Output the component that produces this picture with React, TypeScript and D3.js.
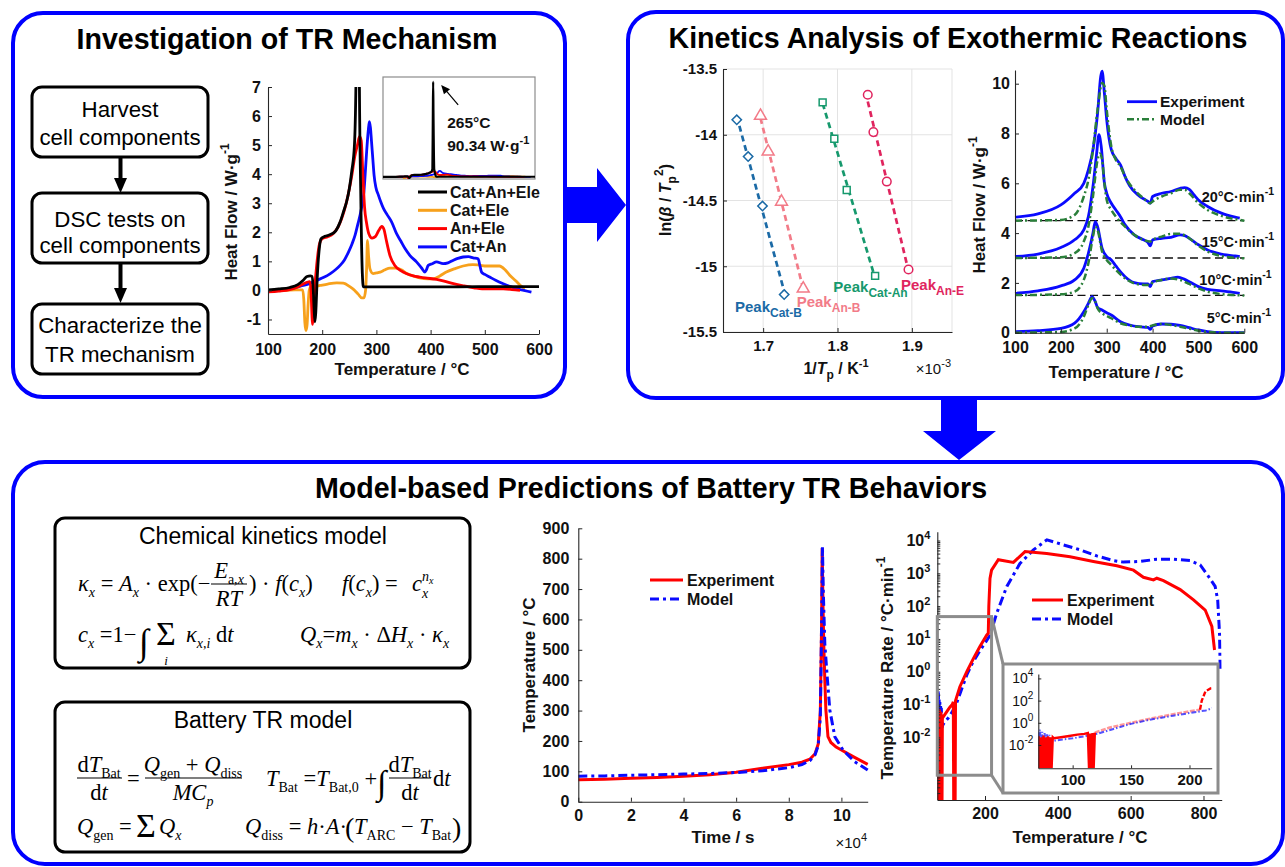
import { useEffect, useRef } from 'react';
import * as d3 from 'd3';

type Pt = [number, number];

const FONT = "'Liberation Sans', Arial, Helvetica, sans-serif";
const SERIF = "'Liberation Serif', 'Times New Roman', serif";
const AXIS = '#262626';
const TEXT = '#111111';
const FRAME = '#0000ff';

// ---------- top-left: DSC of cell components ----------
const dscTempTicks = [100, 200, 300, 400, 500, 600];
const dscFlowTicks = [-1, 0, 1, 2, 3, 4, 5, 6, 7];
const dscTempDomain: Pt = [100, 600];
const dscFlowDomain: Pt = [-1.5, 7];
const dscInsetFlowDomain: Pt = [-2, 95];
const dscPeak: Pt = [265, 90.34];
const dscNames = ['Cat+An+Ele', 'Cat+Ele', 'An+Ele', 'Cat+An'];
const dscColors = ['#000000', '#f7a11c', '#ff0000', '#0a0aff'];

const catAnEle: Pt[] = [
  [100, 0.02], [120, 0.05], [140, 0.1], [155, 0.2], [165, 0.35], [172, 0.48], [178, 0.5], [181, 0.48],
  [183, 0.2], [185, -0.6], [186.5, -1.08], [188, -0.8], [191, 0.5], [195, 1.5], [198, 1.78], [205, 1.86],
  [215, 1.92], [225, 2.05], [233, 2.35], [240, 2.75], [245, 3.05], [250, 3.5], [254.5, 4.1], [259.5, 5.0],
  [262.5, 7.5], [264, 60], [265, 90.34], [266, 60], [268.5, 7.5], [271, 3.5], [274, 0.6], [276, 0.12],
  [300, 0.12], [400, 0.12], [500, 0.13], [600, 0.13],
];
const catEle: Pt[] = [
  [100, 0], [130, 0], [150, 0.02], [164, 0.02], [166, -0.3], [168, -1.1], [170, -1.38], [172, -1.2],
  [174, -0.5], [176, 0], [178, 0.1], [185, 0.13], [196, 0.17], [210, 0.22], [227, 0.26], [239, 0.25],
  [251, 0.13], [260, 0.0], [266, -0.12], [273, -0.26], [277, -0.26], [280, 0.0], [282, 0.8], [283.5, 1.72],
  [285.5, 1.2], [288, 0.75], [294, 0.58], [300, 0.6], [307, 0.63], [315, 0.7], [325, 0.77], [337, 0.77],
  [347, 0.7], [356, 0.58], [368, 0.5], [380, 0.43], [395, 0.4], [405, 0.4], [417, 0.5], [429, 0.63],
  [445, 0.75], [460, 0.84], [478, 0.89], [490, 0.87], [503, 0.84], [515, 0.84], [527, 0.84], [537, 0.72],
  [546, 0.52], [557, 0.33], [567, 0.15], [574, 0.06],
];
const anEle: Pt[] = [
  [100, -0.05], [120, -0.02], [140, 0.03], [155, 0.12], [165, 0.22], [172, 0.28], [177, 0.3], [179, 0.1],
  [181, -0.8], [182, -1.17], [183.5, -0.9], [186, 0], [190, 0.9], [195, 1.6], [200, 1.78], [210, 1.85],
  [220, 1.95], [230, 2.2], [240, 2.7], [248, 3.3], [255, 4.0], [260, 4.6], [265, 5.0], [269, 5.3],
  [272, 5.15], [275, 4.0], [278, 2.9], [282, 2.3], [286, 1.95], [292, 1.8], [298, 1.85], [304, 2.05],
  [310, 2.2], [314, 2.1], [318, 1.75], [325, 1.2], [334, 0.86], [345, 0.68], [355, 0.58], [368, 0.5],
  [380, 0.46], [390, 0.43], [411, 0.38], [425, 0.32], [442, 0.23], [460, 0.16], [480, 0.09], [495, 0.05],
  [510, 0.05], [534, 0.05], [550, 0.03], [565, 0.0],
];
const catAn: Pt[] = [
  [100, -0.05], [120, 0], [140, 0.05], [160, 0.15], [175, 0.22], [190, 0.35], [203, 0.45], [215, 0.58],
  [225, 0.72], [233, 0.86], [241, 1.05], [248.5, 1.32], [255, 1.6], [260.7, 1.9], [266, 2.3], [270, 2.6],
  [274, 3.0], [277, 3.4], [280, 4.2], [282, 4.78], [285, 5.5], [287, 5.81], [289, 5.6], [291, 5.12],
  [293.5, 4.5], [295.7, 3.97], [299, 3.55], [303.7, 3.28], [308, 3.05], [313, 2.82], [320, 2.6], [328, 2.36],
  [337, 1.96], [345, 1.7], [352.8, 1.44], [362, 1.2], [374, 0.98], [383, 0.78], [389.6, 0.63], [392, 0.7],
  [395.7, 0.86], [403, 0.92], [411, 0.98], [423, 0.92], [432, 0.95], [442, 1.04], [450, 1.1], [460, 1.15],
  [470, 1.16], [478.5, 1.12], [487.7, 1.09], [491, 0.85], [494, 0.63], [500, 0.55], [509, 0.46], [520, 0.35],
  [534, 0.23], [546, 0.14], [558, 0.06], [572, 0], [586, -0.06],
];
const dscCurves = [catAnEle, catEle, anEle, catAn];

// ---------- top-right (left): Kissinger plot ----------
const kisDomainX: Pt = [1.646, 1.954];
const kisDomainY: Pt = [-15.5, -13.5];
const kisTicksX = [1.7, 1.8, 1.9];
const kisTicksY = [-15.5, -15, -14.5, -14, -13.5];
const peakNames = ['Cat-B', 'An-B', 'Cat-An', 'An-E'];
const peakColors = ['#1b6aa6', '#f27b88', '#16996d', '#e0245e'];
const peakShapes = ['diamond', 'triangle', 'square', 'circle'];
const peakInvT = [
  [1.6645, 1.6798, 1.6991, 1.7283],
  [1.6964, 1.7067, 1.7247, 1.7539],
  [1.78, 1.7957, 1.8124, 1.8506],
  [1.8407, 1.8483, 1.8663, 1.8955],
];
const peakLnRate = [
  [-13.886, -14.166, -14.542, -15.215],
  [-13.856, -14.128, -14.509, -15.17],
  [-13.754, -14.031, -14.42, -15.073],
  [-13.696, -13.98, -14.356, -15.025],
];
const peakLabelAt: Pt[] = [[1.6621, -15.346], [1.7451, -15.308], [1.7944, -15.194], [1.8854, -15.181]];

// ---------- top-right (right): DSC fit at four heating rates ----------
const kinTicksX = [100, 200, 300, 400, 500, 600];
const kinTicksY = [0, 2, 4, 6, 8, 10];
const kinDomainY: Pt = [0, 10.55];
const heatRates = ['20', '15', '10', '5'];
const kinBaselines = [4.5, 3, 1.5];
const kinLabelAt: Pt[] = [[507, 5.23], [507, 3.46], [502, 1.92], [518, 0.38]];
const exp20: Pt[] = [
  [100, 4.64], [150, 4.77], [200, 5.13], [230, 5.6], [250, 6.0], [260, 6.54], [270, 7.35], [280, 8.8],
  [287, 10.3], [290, 10.5], [295, 9.6], [300, 8.55], [310, 7.35], [320, 7.0], [330, 6.74], [340, 6.27],
  [350, 5.9], [370, 5.5], [390, 5.27], [395, 5.2], [400, 5.47], [420, 5.6], [440, 5.67], [460, 5.8],
  [470, 5.83], [480, 5.76], [490, 5.54], [500, 5.33], [520, 5.07], [550, 4.8], [580, 4.64], [590, 4.6],
];
const mod20: Pt[] = [
  [100, 4.5], [200, 4.53], [230, 4.73], [250, 5.47], [260, 6.14], [270, 7.35], [280, 8.95], [290, 10.03],
  [295, 9.9], [300, 8.95], [310, 7.48], [320, 6.94], [330, 6.68], [340, 6.27], [360, 5.74], [380, 5.4],
  [395, 5.2], [400, 5.27], [420, 5.47], [440, 5.6], [460, 5.74], [470, 5.74], [480, 5.6], [500, 5.2],
  [520, 4.93], [550, 4.69], [580, 4.56], [600, 4.5],
];
const exp15: Pt[] = [
  [100, 3.06], [150, 3.16], [200, 3.42], [230, 3.73], [250, 4.13], [260, 4.66], [270, 5.87], [278, 7.2],
  [283, 7.95], [288, 7.48], [295, 6.0], [300, 5.6], [310, 5.2], [320, 4.93], [330, 4.66], [340, 4.33],
  [360, 3.93], [380, 3.73], [390, 3.62], [395, 3.49], [400, 3.73], [420, 3.79], [440, 3.83], [460, 3.93],
  [470, 3.9], [480, 3.79], [500, 3.53], [520, 3.32], [550, 3.16], [580, 3.08], [590, 3.06],
];
const mod15: Pt[] = [
  [100, 3.0], [200, 3.03], [230, 3.19], [250, 3.66], [260, 4.26], [270, 5.47], [280, 6.94], [285, 7.2],
  [290, 6.94], [295, 6.0], [300, 5.33], [310, 4.93], [320, 4.66], [340, 4.26], [360, 3.93], [380, 3.73],
  [395, 3.66], [400, 3.73], [420, 3.86], [440, 3.97], [460, 3.97], [480, 3.79], [500, 3.49], [520, 3.26],
  [550, 3.08], [580, 3.01], [600, 2.99],
];
const exp10: Pt[] = [
  [100, 1.58], [150, 1.68], [200, 1.88], [230, 2.12], [250, 2.59], [260, 3.19], [270, 4.0], [275, 4.46],
  [280, 4.26], [290, 3.39], [300, 3.06], [310, 2.92], [320, 2.68], [340, 2.25], [360, 2.01], [380, 1.96],
  [390, 1.96], [395, 1.85], [400, 2.05], [420, 2.12], [440, 2.18], [455, 2.23], [470, 2.14], [480, 2.05],
  [500, 1.85], [520, 1.74], [550, 1.68], [580, 1.61], [590, 1.58],
];
const mod10: Pt[] = [
  [100, 1.51], [200, 1.54], [230, 1.65], [250, 2.12], [260, 2.79], [270, 3.86], [275, 4.26], [280, 4.13],
  [290, 3.26], [300, 2.92], [310, 2.72], [320, 2.52], [340, 2.18], [360, 1.98], [380, 1.92], [395, 1.92],
  [400, 2.01], [420, 2.12], [440, 2.18], [460, 2.12], [480, 1.96], [500, 1.78], [520, 1.65], [550, 1.55],
  [580, 1.51], [600, 1.49],
];
const exp5: Pt[] = [
  [100, 0.04], [150, 0.08], [200, 0.17], [230, 0.38], [250, 0.84], [260, 1.18], [268, 1.45], [275, 1.25],
  [280, 1.02], [290, 0.91], [300, 0.8], [310, 0.71], [330, 0.44], [350, 0.31], [370, 0.24], [390, 0.21],
  [395, 0.13], [400, 0.27], [420, 0.35], [440, 0.34], [460, 0.29], [480, 0.2], [500, 0.11], [520, 0.04],
  [550, 0], [600, 0],
];
const mod5: Pt[] = [
  [100, 0], [200, 0.03], [230, 0.17], [250, 0.64], [260, 1.11], [268, 1.38], [275, 1.25], [280, 0.98],
  [290, 0.78], [300, 0.67], [310, 0.58], [330, 0.38], [350, 0.29], [370, 0.24], [390, 0.24], [400, 0.29],
  [420, 0.35], [440, 0.31], [460, 0.24], [480, 0.16], [500, 0.08], [520, 0.03], [550, 0], [600, 0],
];
const kinExp = [exp20, exp15, exp10, exp5];
const kinModel = [mod20, mod15, mod10, mod5];

// ---------- bottom: battery temperature vs time (x 1e4 s) ----------
const timeTicks = [0, 2, 4, 6, 8, 10];
const tempTicks = [0, 100, 200, 300, 400, 500, 600, 700, 800, 900];
const timeDomain: Pt = [0, 11];
const tempDomain: Pt = [0, 900];
const tempExp: Pt[] = [
  [0, 72], [1, 74], [2, 77], [3, 80], [4, 84], [5, 89], [6, 97], [7, 110], [8, 122], [8.5, 130], [8.8, 140],
  [9.0, 158], [9.12, 190], [9.2, 300], [9.25, 600], [9.27, 835], [9.3, 650], [9.33, 520], [9.37, 400],
  [9.41, 302], [9.49, 214], [9.6, 195], [9.8, 180], [10, 170], [10.5, 146], [11, 123],
];
const tempModel: Pt[] = [
  [0, 84], [1, 85], [2, 87], [3, 89], [4, 91], [5, 93], [6, 96], [7, 102], [8, 112], [8.5, 122], [8.8, 135],
  [9.0, 155], [9.12, 185], [9.2, 280], [9.25, 600], [9.28, 840], [9.31, 700], [9.37, 520], [9.46, 412],
  [9.56, 302], [9.75, 214], [10.06, 170], [10.5, 132], [11, 104],
];

// ---------- bottom: temperature rate vs temperature (log) ----------
const rateTempTicks = [200, 400, 600, 800];
const rateTempDomain: Pt = [69, 850];
const rateDomain: Pt = [1.23e-4, 1.86e4];
const rateLabelExps = [-2, -1, 0, 1, 2, 3, 4];
const rateInsetTempTicks = [100, 150, 200];
const rateInsetTempDomain: Pt = [70.6, 219];
const rateInsetDomain: Pt = [7.9e-5, 2.5e4];
const rateInsetTicks = [1e-2, 1, 1e2, 1e4];
const rateZoomT: Pt = [69, 218];
const rateZoomR: Pt = [7e-4, 48];
const rateNoiseEnd = 119;
const rateJumpStart = 209;
const rateExp: Pt[] = [
  [69, 0.05], [70, 1e-6], [71, 0.06], [72, 1e-6], [73, 0.05], [74, 1e-6], [75, 0.07], [76, 1e-6], [77, 0.05],
  [78, 1e-6], [79, 0.06], [80, 1e-6], [81, 0.05], [82, 1e-6], [83, 0.05], [84, 0.04], [90, 0.05], [97, 0.065],
  [104, 0.085], [110, 0.1], [113, 0.12], [114, 1e-6], [115, 0.11], [116, 1e-6], [117, 0.12], [118, 1e-6],
  [119, 0.13], [131, 0.35], [150, 1.0], [168, 2.5], [186, 5.9], [204.6, 13], [209, 15], [210.5, 100],
  [213.7, 700], [218, 1250], [236.6, 2600], [278, 2150], [310, 4600], [369.5, 4000], [433.6, 3200],
  [497.7, 2300], [562, 1700], [607.7, 1250], [635, 760], [662.7, 630], [671.8, 710], [690, 600], [736, 320],
  [772.6, 155], [804.7, 76], [823, 24], [830.3, 4.6],
];
const rateModel: Pt[] = [
  [69, 0.003], [70, 0.2], [71, 0.01], [72, 0.25], [73, 0.008], [74, 0.15], [75, 0.01], [76, 0.12], [77, 0.012],
  [78, 0.09], [79, 0.015], [80, 0.08], [82, 0.02], [85, 0.025], [90, 0.03], [100, 0.04], [110, 0.06],
  [122, 0.11], [135, 0.28], [150, 0.8], [165, 1.8], [186, 4.4], [200, 7.5], [214, 13], [232, 60], [260, 400],
  [296, 2000], [333, 5200], [370, 10500], [415, 7400], [461, 5200], [507, 3400], [553, 2450], [580, 2200],
  [626, 2300], [672, 2700], [718, 2700], [763, 2450], [791, 1800], [814, 800], [832, 400], [839, 155],
  [844, 15], [846, 1],
];

type Seg = { t: string; i?: boolean; o?: number; s?: number };

function richText(g: any, x: number, y: number, segs: Seg[], opt: any = {}) {
  const size = opt.size ?? 16;
  const t = g.append('text').attr('x', x).attr('y', y)
    .attr('font-family', opt.family ?? FONT)
    .attr('font-size', size)
    .attr('font-weight', opt.weight ?? 'bold')
    .attr('text-anchor', opt.anchor ?? 'middle')
    .attr('fill', opt.fill ?? TEXT);
  if (opt.rotate) t.attr('transform', `rotate(${opt.rotate},${x},${y})`);
  let cur = 0;
  segs.forEach((s) => {
    const off = s.o ?? 0;
    t.append('tspan').attr('dy', off - cur).attr('font-size', s.s ?? size)
      .attr('font-style', s.i ? 'italic' : 'normal').text(s.t);
    cur = off;
  });
  return t;
}

function styleAxis(a: any, size = 16, weight = 'bold') {
  a.select('.domain').attr('stroke', AXIS).attr('stroke-width', 1.1);
  a.selectAll('.tick line').attr('stroke', AXIS);
  a.selectAll('.tick text').attr('font-family', FONT).attr('font-size', size)
    .attr('font-weight', weight).attr('fill', TEXT);
  return a;
}

function useD3(draw: (g: any) => void) {
  const ref = useRef<SVGGElement>(null);
  useEffect(() => {
    const g = d3.select(ref.current);
    g.selectAll('*').remove();
    draw(g);
  }, []);
  return ref;
}

function logTicks(lo: number, hi: number) {
  const out: number[] = [];
  for (let e = Math.floor(Math.log10(lo)); e <= Math.ceil(Math.log10(hi)); e++) {
    for (let k = 1; k < 10; k++) {
      const v = k * Math.pow(10, e);
      if (v >= lo && v <= hi) out.push(v);
    }
  }
  return out;
}

function powLabels(axisG: any, exps: number[], supSize: number) {
  axisG.selectAll('.tick text').each(function (this: any, d: any) {
    const t = d3.select(this);
    t.text(null);
    const e = Math.round(Math.log10(d));
    if (Math.abs(d / Math.pow(10, e) - 1) > 1e-6 || !exps.includes(e)) return;
    t.append('tspan').text('10');
    t.append('tspan').attr('dy', -7).attr('font-size', supSize).text(String(e));
  });
}

function DscChart() {
  const ref = useD3((g) => {
    const x = d3.scaleLinear().domain(dscTempDomain).range([268, 539]);
    const y = d3.scaleLinear().domain(dscFlowDomain).range([334, 87]);
    g.append('clipPath').attr('id', 'dscClip').append('rect')
      .attr('x', 268).attr('y', 87).attr('width', 272).attr('height', 247);
    const line = d3.line<Pt>().x((d) => x(d[0])).y((d) => y(d[1])).curve(d3.curveMonotoneX);
    const plot = g.append('g').attr('clip-path', 'url(#dscClip)');
    [1, 3, 2, 0].forEach((i) => {
      plot.append('path').attr('d', line(dscCurves[i])).attr('fill', 'none')
        .attr('stroke', dscColors[i]).attr('stroke-width', 2.8).attr('stroke-linejoin', 'round');
    });

    styleAxis(g.append('g').attr('transform', 'translate(0,334)')
      .call(d3.axisBottom(x).tickValues(dscTempTicks).tickSize(-4).tickSizeOuter(0).tickPadding(10)));
    styleAxis(g.append('g').attr('transform', 'translate(268,0)')
      .call(d3.axisLeft(y).tickValues(dscFlowTicks).tickFormat((d: any) => String(d))
        .tickSize(-4).tickSizeOuter(0).tickPadding(7)));
    richText(g, 402, 375, [{ t: 'Temperature / °C' }], { size: 17 });
    richText(g, 237, 212, [{ t: 'Heat Flow / W·g' }, { t: '-1', o: -8, s: 12 }], { size: 17, rotate: -90 });

    // legend
    dscNames.forEach((n, i) => {
      const ly = 192 + i * 18.3;
      g.append('line').attr('x1', 418).attr('x2', 447).attr('y1', ly).attr('y2', ly)
        .attr('stroke', dscColors[i]).attr('stroke-width', 3);
      richText(g, 450, ly + 5.5, [{ t: n }], { anchor: 'start', size: 16 });
    });

    // inset with the full black peak
    const ix = d3.scaleLinear().domain(dscTempDomain).range([383, 535]);
    const iy = d3.scaleLinear().domain(dscInsetFlowDomain).range([179, 77]);
    g.append('rect').attr('x', 383).attr('y', 77).attr('width', 152).attr('height', 102)
      .attr('fill', '#fff').attr('stroke', '#8c8c8c').attr('stroke-width', 1.2);
    g.append('clipPath').attr('id', 'dscInsetClip').append('rect')
      .attr('x', 383).attr('y', 77).attr('width', 152).attr('height', 102);
    const iline = d3.line<Pt>().x((d) => ix(d[0])).y((d) => iy(d[1])).curve(d3.curveMonotoneX);
    const ip = g.append('g').attr('clip-path', 'url(#dscInsetClip)');
    [1, 3, 2, 0].forEach((i) => {
      ip.append('path').attr('d', iline(dscCurves[i])).attr('fill', 'none')
        .attr('stroke', dscColors[i]).attr('stroke-width', i === 0 ? 2.2 : 1.8);
    });
    const px = ix(dscPeak[0]);
    const py = iy(dscPeak[1]);
    const tip: Pt = [px + 8, py + 3];
    const tail: Pt = [px + 25, py + 23];
    g.append('line').attr('x1', tail[0]).attr('y1', tail[1]).attr('x2', tip[0] + 3).attr('y2', tip[1] + 3.5)
      .attr('stroke', '#000').attr('stroke-width', 1.2);
    const ang = Math.atan2(tip[1] - tail[1], tip[0] - tail[0]);
    const hl = 9, hw = 4;
    const bx = tip[0] - hl * Math.cos(ang), by = tip[1] - hl * Math.sin(ang);
    g.append('polygon').attr('points', [
      tip, [bx + hw * Math.sin(ang), by - hw * Math.cos(ang)], [bx - hw * Math.sin(ang), by + hw * Math.cos(ang)],
    ].map((p) => p.join(',')).join(' ')).attr('fill', '#000');
    richText(g, px + 14, 128, [{ t: `${dscPeak[0]}°C` }], { anchor: 'start', size: 15.5 });
    richText(g, px + 14, 151, [{ t: `${dscPeak[1]} W·g` }, { t: '-1', o: -7, s: 11 }], { anchor: 'start', size: 15.5 });
  });
  return <g ref={ref} />;
}

function KissingerChart() {
  const ref = useD3((g) => {
    const x = d3.scaleLinear().domain(kisDomainX).range([723, 952]);
    const y = d3.scaleLinear().domain(kisDomainY).range([332, 69]);
    const grid = g.append('g').attr('stroke', '#e3e3e3').attr('stroke-width', 1);
    kisTicksX.forEach((v) => grid.append('line').attr('x1', x(v)).attr('x2', x(v)).attr('y1', 69).attr('y2', 332));
    kisTicksY.forEach((v) => grid.append('line').attr('x1', 723).attr('x2', 952).attr('y1', y(v)).attr('y2', y(v)));
    grid.append('line').attr('x1', 952).attr('x2', 952).attr('y1', 69).attr('y2', 332);

    styleAxis(g.append('g').attr('transform', 'translate(0,332)')
      .call(d3.axisBottom(x).tickValues(kisTicksX).tickFormat((d: any) => d.toFixed(1))
        .tickSize(-4).tickSizeOuter(0).tickPadding(8)), 15);
    styleAxis(g.append('g').attr('transform', 'translate(723,0)')
      .call(d3.axisLeft(y).tickValues(kisTicksY).tickFormat((d: any) => String(d))
        .tickSize(-4).tickSizeOuter(0).tickPadding(6)), 15);

    peakNames.forEach((name, i) => {
      const xs = peakInvT[i], ys = peakLnRate[i];
      const mx = d3.mean(xs)!, my = d3.mean(ys)!;
      let sxy = 0, sxx = 0;
      xs.forEach((v, k) => { sxy += (v - mx) * (ys[k] - my); sxx += (v - mx) * (v - mx); });
      const b = sxy / sxx, a = my - b * mx;
      const x0 = d3.min(xs)!, x1 = d3.max(xs)!;
      g.append('line').attr('x1', x(x0)).attr('y1', y(a + b * x0)).attr('x2', x(x1)).attr('y2', y(a + b * x1))
        .attr('stroke', peakColors[i]).attr('stroke-width', 2.7).attr('stroke-dasharray', '6,4');
      const shape = peakShapes[i];
      const sym = d3.symbol().type(
        shape === 'triangle' ? d3.symbolTriangle : shape === 'circle' ? d3.symbolCircle : d3.symbolSquare,
      ).size(shape === 'diamond' ? 44 : shape === 'triangle' ? 62 : shape === 'square' ? 48 : 58);
      xs.forEach((v, k) => {
        g.append('path').attr('d', sym())
          .attr('transform', `translate(${x(v)},${y(ys[k])})${shape === 'diamond' ? ' rotate(45)' : ''}`)
          .attr('fill', '#fff').attr('stroke', peakColors[i]).attr('stroke-width', 1.5);
      });
      const [lx, ly] = peakLabelAt[i];
      richText(g, x(lx), y(ly), [{ t: 'Peak' }, { t: name, o: 5, s: 12 }], { anchor: 'start', size: 15, fill: peakColors[i] });
    });

    richText(g, 836, 374, [
      { t: '1/' }, { t: 'T', i: true }, { t: 'p', o: 5, s: 12 }, { t: ' / K' }, { t: '-1', o: -7, s: 11 },
    ], { size: 16 });
    richText(g, 951, 374, [{ t: '×10' }, { t: '-3', o: -7, s: 11 }], { anchor: 'end', size: 15, weight: 'normal' });
    richText(g, 671, 200, [
      { t: 'ln(' }, { t: 'β', i: true }, { t: ' / ' }, { t: 'T', i: true }, { t: 'p', o: 5, s: 12 },
      { t: '2', o: -8, s: 12 }, { t: ')' },
    ], { size: 16, rotate: -90 });
  });
  return <g ref={ref} />;
}

function KineticsChart() {
  const ref = useD3((g) => {
    const x = d3.scaleLinear().domain(dscTempDomain).range([1015, 1244.3]);
    const y = d3.scaleLinear().domain(kinDomainY).range([332.7, 70]);
    kinBaselines.forEach((v) => {
      g.append('line').attr('x1', x(100)).attr('x2', x(600)).attr('y1', y(v)).attr('y2', y(v))
        .attr('stroke', '#111').attr('stroke-width', 1.4).attr('stroke-dasharray', '8,4.5');
    });
    const line = d3.line<Pt>().x((d) => x(d[0])).y((d) => y(d[1])).curve(d3.curveMonotoneX);
    kinExp.forEach((c) => g.append('path').attr('d', line(c)).attr('fill', 'none')
      .attr('stroke', '#0a0aff').attr('stroke-width', 2.8));
    kinModel.forEach((c) => g.append('path').attr('d', line(c)).attr('fill', 'none')
      .attr('stroke', '#2a7f3a').attr('stroke-width', 2.5).attr('stroke-dasharray', '7,3,2,3'));

    styleAxis(g.append('g').attr('transform', 'translate(0,332.7)')
      .call(d3.axisBottom(x).tickValues(kinTicksX).tickSize(-4).tickSizeOuter(0).tickPadding(9)));
    styleAxis(g.append('g').attr('transform', 'translate(1015,0)')
      .call(d3.axisLeft(y).tickValues(kinTicksY).tickSize(-4).tickSizeOuter(0).tickPadding(5)));
    richText(g, 1116, 378, [{ t: 'Temperature / °C' }], { size: 17 });
    richText(g, 985, 205, [{ t: 'Heat Flow / W·g' }, { t: '-1', o: -8, s: 12 }], { size: 17, rotate: -90 });

    heatRates.forEach((r, i) => {
      const [lx, ly] = kinLabelAt[i];
      richText(g, x(lx), y(ly), [{ t: `${r}°C·min` }, { t: '-1', o: -7, s: 10.5 }], { anchor: 'start', size: 14.5 });
    });

    g.append('line').attr('x1', 1127).attr('x2', 1157).attr('y1', 101.7).attr('y2', 101.7)
      .attr('stroke', '#0a0aff').attr('stroke-width', 2.8);
    g.append('line').attr('x1', 1127).attr('x2', 1157).attr('y1', 119.3).attr('y2', 119.3)
      .attr('stroke', '#2a7f3a').attr('stroke-width', 2.5).attr('stroke-dasharray', '7,3,2,3');
    richText(g, 1160, 107, [{ t: 'Experiment' }], { anchor: 'start', size: 15.5 });
    richText(g, 1160, 125, [{ t: 'Model' }], { anchor: 'start', size: 15.5 });
  });
  return <g ref={ref} />;
}

function TempChart() {
  const ref = useD3((g) => {
    const x = d3.scaleLinear().domain(timeDomain).range([578.3, 867.7]);
    const y = d3.scaleLinear().domain(tempDomain).range([801.7, 528.3]);
    const line = d3.line<Pt>().x((d) => x(d[0])).y((d) => y(d[1]));
    g.append('path').attr('d', line(tempExp)).attr('fill', 'none').attr('stroke', '#ff0000').attr('stroke-width', 3);
    g.append('path').attr('d', line(tempModel)).attr('fill', 'none').attr('stroke', '#0a0aff')
      .attr('stroke-width', 3).attr('stroke-dasharray', '9,4,3,4');
    styleAxis(g.append('g').attr('transform', 'translate(0,801.7)')
      .call(d3.axisBottom(x).tickValues(timeTicks).tickSize(-4).tickSizeOuter(0).tickPadding(8)));
    styleAxis(g.append('g').attr('transform', 'translate(578.3,0)')
      .call(d3.axisLeft(y).tickValues(tempTicks).tickSize(-4).tickSizeOuter(0).tickPadding(9)));
    richText(g, 723, 843, [{ t: 'Time / s' }], { size: 17 });
    richText(g, 867, 848, [{ t: '×10' }, { t: '4', o: -7, s: 11 }], { anchor: 'end', size: 15, weight: 'normal' });
    richText(g, 535, 665, [{ t: 'Temperature / °C' }], { size: 17, rotate: -90 });

    g.append('line').attr('x1', 650).attr('x2', 683).attr('y1', 580).attr('y2', 580)
      .attr('stroke', '#ff0000').attr('stroke-width', 3);
    g.append('line').attr('x1', 650).attr('x2', 683).attr('y1', 599).attr('y2', 599)
      .attr('stroke', '#0a0aff').attr('stroke-width', 3).attr('stroke-dasharray', '9,4,3,4');
    richText(g, 687, 586, [{ t: 'Experiment' }], { anchor: 'start', size: 16 });
    richText(g, 687, 605, [{ t: 'Model' }], { anchor: 'start', size: 16 });
  });
  return <g ref={ref} />;
}

function RateChart() {
  const ref = useD3((g) => {
    const x = d3.scaleLinear().domain(rateTempDomain).range([937.3, 1221.7]);
    const y = d3.scaleLog().domain(rateDomain).range([800, 531.7]).clamp(true);
    g.append('clipPath').attr('id', 'rateClip').append('rect')
      .attr('x', 937.3).attr('y', 531.7).attr('width', 284.4).attr('height', 268.3);
    const line = d3.line<Pt>().x((d) => x(d[0])).y((d) => y(d[1]));
    const plot = g.append('g').attr('clip-path', 'url(#rateClip)');
    plot.append('path').attr('d', line(rateModel)).attr('fill', 'none').attr('stroke', '#0a0aff')
      .attr('stroke-width', 3).attr('stroke-dasharray', '9,4,3,4');
    plot.append('path').attr('d', line(rateExp)).attr('fill', 'none').attr('stroke', '#ff0000')
      .attr('stroke-width', 3);

    styleAxis(g.append('g').attr('transform', 'translate(0,800)')
      .call(d3.axisBottom(x).tickValues(rateTempTicks).tickSize(-4).tickSizeOuter(0).tickPadding(8)));
    const ay = styleAxis(g.append('g').attr('transform', 'translate(937.3,0)')
      .call(d3.axisLeft(y).tickValues(logTicks(rateDomain[0], rateDomain[1])).tickFormat(() => '')
        .tickSize(-3).tickSizeOuter(0).tickPadding(7)));
    powLabels(ay, rateLabelExps, 11);
    richText(g, 1080, 843, [{ t: 'Temperature / °C' }], { size: 17 });
    richText(g, 893, 668, [{ t: 'Temperature Rate / °C·min' }, { t: '-1', o: -8, s: 12 }], { size: 17, rotate: -90 });

    // zoom box, connectors and inset
    const zx0 = x(rateZoomT[0]), zx1 = x(rateZoomT[1]);
    const zy0 = y(rateZoomR[1]), zy1 = y(rateZoomR[0]);
    const box = { x: 1003, y: 664, w: 215, h: 129 };
    const gray = '#8c8c8c';
    g.append('rect').attr('x', zx0).attr('y', zy0).attr('width', zx1 - zx0).attr('height', zy1 - zy0)
      .attr('fill', 'none').attr('stroke', gray).attr('stroke-width', 3);
    g.append('line').attr('x1', zx1).attr('y1', zy0).attr('x2', box.x).attr('y2', box.y).attr('stroke', gray).attr('stroke-width', 3);
    g.append('line').attr('x1', zx1).attr('y1', zy1).attr('x2', box.x).attr('y2', box.y + box.h).attr('stroke', gray).attr('stroke-width', 3);
    g.append('rect').attr('x', box.x).attr('y', box.y).attr('width', box.w).attr('height', box.h)
      .attr('fill', '#fff').attr('stroke', gray).attr('stroke-width', 3);

    const ix = d3.scaleLinear().domain(rateInsetTempDomain).range([1038.3, 1211.7]);
    const iy = d3.scaleLog().domain(rateInsetDomain).range([768.3, 674]).clamp(true);
    g.append('clipPath').attr('id', 'rateInsetClip').append('rect')
      .attr('x', 1038.3).attr('y', 674).attr('width', 173.4).attr('height', 94.3);
    const iline = d3.line<Pt>().x((d) => ix(d[0])).y((d) => iy(d[1]));
    const ip = g.append('g').attr('clip-path', 'url(#rateInsetClip)');
    ip.append('path').attr('d', iline(rateExp.filter((d) => d[0] >= rateNoiseEnd && d[0] <= rateJumpStart)))
      .attr('fill', 'none').attr('stroke', '#ff3030')
      .attr('stroke-width', 2.6).attr('stroke-opacity', 0.5).attr('stroke-dasharray', '5,1.5');
    ip.append('path').attr('d', iline(rateModel)).attr('fill', 'none').attr('stroke', '#1a1aff')
      .attr('stroke-width', 2).attr('stroke-opacity', 0.75).attr('stroke-dasharray', '5,2,1.5,2');
    ip.append('path').attr('d', iline(rateExp.filter((d) => d[0] <= rateNoiseEnd)))
      .attr('fill', 'none').attr('stroke', '#ff0000').attr('stroke-width', 2.4);
    ip.append('path').attr('d', iline(rateExp.filter((d) => d[0] >= rateJumpStart)))
      .attr('fill', 'none').attr('stroke', '#ff0000').attr('stroke-width', 2.4).attr('stroke-dasharray', '5,2');
    styleAxis(g.append('g').attr('transform', 'translate(0,768.3)')
      .call(d3.axisBottom(ix).tickValues(rateInsetTempTicks).tickSize(-3).tickSizeOuter(0).tickPadding(6)), 15);
    const iay = styleAxis(g.append('g').attr('transform', 'translate(1038.3,0)')
      .call(d3.axisLeft(iy).tickValues(rateInsetTicks).tickFormat(() => '').tickSize(-3).tickSizeOuter(0).tickPadding(5)),
      14, 'normal');
    powLabels(iay, [-2, 0, 2, 4], 10);

    g.append('line').attr('x1', 1032).attr('x2', 1063).attr('y1', 600).attr('y2', 600)
      .attr('stroke', '#ff0000').attr('stroke-width', 3);
    g.append('line').attr('x1', 1032).attr('x2', 1063).attr('y1', 619).attr('y2', 619)
      .attr('stroke', '#0a0aff').attr('stroke-width', 3).attr('stroke-dasharray', '9,4,3,4');
    richText(g, 1067, 606, [{ t: 'Experiment' }], { anchor: 'start', size: 16 });
    richText(g, 1067, 625, [{ t: 'Model' }], { anchor: 'start', size: 16 });
  });
  return <g ref={ref} />;
}

const I = (t: string): Seg => ({ t, i: true });
const U = (t: string): Seg => ({ t });
const sb = (t: string, i = false): Seg => ({ t, i, o: 6, s: 14 });

const eqTexts: { x: number; y: number; segs: Seg[]; size?: number; anchor?: string }[] = [
  { x: 78, y: 591, segs: [I('κ'), sb('x', true), U(' = '), I('A'), sb('x', true), U(' · exp(−')] },
  { x: 229, y: 578, anchor: 'middle', segs: [I('E'), sb('a,'), sb('x', true)] },
  { x: 229, y: 606, anchor: 'middle', segs: [I('RT')] },
  { x: 249, y: 591, segs: [U(') · '), I('f'), U('('), I('c'), sb('x', true), U(')')] },
  { x: 342, y: 591, segs: [I('f'), U('('), I('c'), sb('x', true), U(') =')] },
  { x: 412, y: 591, segs: [I('c'), { t: 'n', i: true, o: -10, s: 14 }, { t: 'x', i: true, o: -7, s: 10 }] },
  { x: 422, y: 598, segs: [I('x')], size: 14 },
  { x: 78, y: 642, segs: [I('c'), sb('x', true), U(' =1−')] },
  { x: 139, y: 654, segs: [U('∫')], size: 36 },
  { x: 156, y: 645, segs: [U('Σ')], size: 34 },
  { x: 166, y: 665, segs: [I('i')], size: 13, anchor: 'middle' },
  { x: 186, y: 642, segs: [I('κ'), sb('x,i', true), U(' d'), I('t')] },
  { x: 300, y: 642, segs: [I('Q'), sb('x', true), U('='), I('m'), sb('x', true), U(' · Δ'), I('H'), sb('x', true), U(' · '), I('κ'), sb('x', true)] },
  { x: 99, y: 772, anchor: 'middle', segs: [U('d'), I('T'), sb('Bat')] },
  { x: 99, y: 800, anchor: 'middle', segs: [U('d'), I('t')] },
  { x: 127, y: 786, segs: [U('=')] },
  { x: 193, y: 772, anchor: 'middle', segs: [I('Q'), sb('gen'), U(' + '), I('Q'), sb('diss')] },
  { x: 193, y: 800, anchor: 'middle', segs: [I('MC'), sb('p', true)] },
  { x: 266, y: 786, segs: [I('T'), sb('Bat'), U(' ='), I('T'), sb('Bat,0'), U(' +')] },
  { x: 377, y: 794, segs: [U('∫')], size: 34 },
  { x: 410, y: 772, anchor: 'middle', segs: [U('d'), I('T'), sb('Bat')] },
  { x: 410, y: 800, anchor: 'middle', segs: [U('d'), I('t')] },
  { x: 433, y: 786, segs: [U('d'), I('t')] },
  { x: 77, y: 834, segs: [I('Q'), sb('gen'), U(' = ')] },
  { x: 136, y: 837, segs: [U('Σ')], size: 34 },
  { x: 159, y: 834, segs: [I('Q'), sb('x', true)] },
  { x: 245, y: 834, segs: [I('Q'), sb('diss'), U(' = '), I('h'), U('·'), I('A'), U('·')] },
  { x: 345, y: 837, segs: [U('(')], size: 28 },
  { x: 354, y: 834, segs: [I('T'), sb('ARC'), U(' − '), I('T'), sb('Bat')] },
  { x: 452, y: 837, segs: [U(')')], size: 28 },
];
const eqBars: [number, number, number][] = [[211, 247, 584], [77, 122, 778], [145, 242, 778], [389, 431, 778]];

function Equations() {
  const ref = useD3((g) => {
    eqTexts.forEach((e) => richText(g, e.x, e.y, e.segs, {
      family: SERIF, weight: 'normal', size: e.size ?? 22.5, anchor: e.anchor ?? 'start', fill: '#000',
    }));
    eqBars.forEach(([x1, x2, yy]) => g.append('line').attr('x1', x1).attr('x2', x2).attr('y1', yy).attr('y2', yy)
      .attr('stroke', '#000').attr('stroke-width', 1.2));
  });
  return <g ref={ref} />;
}

function Layout() {
  const boxes = [
    { y: 87, lines: ['Harvest', 'cell components'], base: [117, 145] },
    { y: 193, lines: ['DSC tests on', 'cell components'], base: [227, 253] },
    { y: 304, lines: ['Characterize the', 'TR mechanism'], base: [333, 362] },
  ];
  return (
    <g fontFamily={FONT}>
      <rect x={13} y={13} width={552} height={384} rx={30} fill="none" stroke={FRAME} strokeWidth={4} />
      <rect x={628} y={12} width={655} height={386} rx={28} fill="none" stroke={FRAME} strokeWidth={4} />
      <rect x={13} y={462} width={1270} height={402} rx={32} fill="none" stroke={FRAME} strokeWidth={4} />
      <polygon points="565,187 597,187 597,168 626,205 597,242 597,223 565,223" fill={FRAME} />
      <polygon points="941,398 977,398 977,431 996,431 959,460 923,431 941,431" fill={FRAME} />

      <text x={287} y={49} textAnchor="middle" fontSize={28.6} fontWeight="bold">Investigation of TR Mechanism</text>
      <text x={958} y={48} textAnchor="middle" fontSize={28.6} fontWeight="bold">Kinetics Analysis of Exothermic Reactions</text>
      <text x={651} y={498} textAnchor="middle" fontSize={28.6} fontWeight="bold">Model-based Predictions of Battery TR Behaviors</text>

      {boxes.map((b, i) => (
        <g key={i}>
          <rect x={32} y={b.y} width={176} height={70} rx={10} fill="#fff" stroke="#000" strokeWidth={3} />
          {b.lines.map((l, k) => (
            <text key={k} x={120} y={b.base[k]} textAnchor="middle" fontSize={22.3}>{l}</text>
          ))}
        </g>
      ))}
      <line x1={120.5} x2={120.5} y1={157} y2={179} stroke="#000" strokeWidth={4} />
      <polygon points="114,178 127,178 120.5,193" fill="#000" />
      <line x1={120.5} x2={120.5} y1={263} y2={289} stroke="#000" strokeWidth={4} />
      <polygon points="114,288 127,288 120.5,303" fill="#000" />

      <rect x={55} y={518} width={415} height={150} rx={10} fill="none" stroke="#000" strokeWidth={3} />
      <rect x={55} y={702} width={415} height={150} rx={10} fill="none" stroke="#000" strokeWidth={3} />
      <text x={263} y={544} textAnchor="middle" fontSize={23}>Chemical kinetics model</text>
      <text x={263} y={728} textAnchor="middle" fontSize={23}>Battery TR model</text>
    </g>
  );
}

export default function App() {
  return (
    <svg width={1285} height={867} style={{ position: 'absolute', left: 0, top: 0, display: 'block' }}>
      <rect width={1285} height={867} fill="#fff" />
      <Layout />
      <DscChart />
      <KissingerChart />
      <KineticsChart />
      <Equations />
      <TempChart />
      <RateChart />
    </svg>
  );
}
